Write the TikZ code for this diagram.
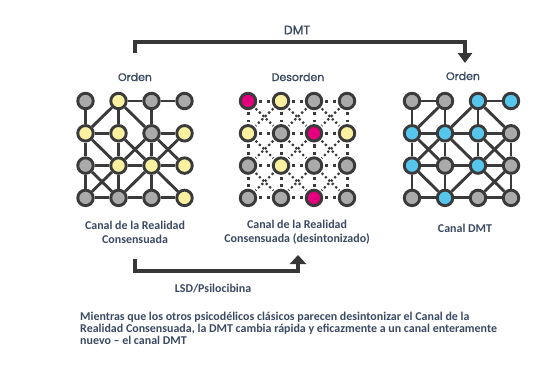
\documentclass[tikz,border=0pt]{standalone}
\usepackage{fontspec}
\setmainfont{Carlito}
\newfontfamily\headfont{Poppins}[FakeBold=1.2]
\usetikzlibrary{arrows.meta}
\definecolor{txt}{RGB}{59,74,99}
\definecolor{ink}{RGB}{58,58,58}
\definecolor{gr}{RGB}{170,170,170}
\definecolor{ye}{RGB}{250,240,160}
\definecolor{mg}{RGB}{228,0,124}
\definecolor{bl}{RGB}{86,198,236}
\definecolor{arrowc}{RGB}{55,55,55}
\pgfdeclarelayer{paper}
\pgfdeclarelayer{edges}
\pgfsetlayers{paper,edges,main}
\tikzset{
  dotnode/.style={circle,draw=ink,line width=2.9bp,minimum size=15.5bp,inner sep=0pt},
  gline/.style={draw=ink,line width=2.9bp},
  oline/.style={draw=ink,line width=3bp,dash pattern=on 3.2bp off 4.5bp,shorten >=1.8bp,shorten <=1.8bp},
  dline/.style={draw=ink,line width=2.2bp,dash pattern=on 2.2bp off 2.6bp,shorten >=1.5bp,shorten <=1.5bp},
  head/.style={font=\headfont\fontsize{11}{13}\selectfont,text=txt,inner sep=0pt},
  lab/.style={font=\bfseries\fontsize{12}{14}\selectfont,text=txt,align=center,inner sep=0pt},
  para/.style={font=\bfseries\fontsize{12}{12}\selectfont,text=txt,inner sep=0pt,anchor=base west},
  arrowline/.style={draw=arrowc,line width=3.2bp,line join=miter},
}
\begin{document}
\begin{tikzpicture}[x=1bp,y=-1bp]
\useasboundingbox (0,0) rectangle (559,365);
\begin{pgfonlayer}{paper}
\fill[white] (0,0) rectangle (559,365);
\end{pgfonlayer}
% grid A
\foreach \c/\r/\f in {0/0/gr,1/0/ye,2/0/gr,3/0/gr,0/1/ye,1/1/ye,2/1/gr,3/1/ye,0/2/gr,1/2/ye,2/2/ye,3/2/ye,0/3/gr,1/3/gr,2/3/gr,3/3/ye}
  \node[dotnode,fill=\f] (A\c\r) at ({85.5+33*\c},{101+32.3*\r}) {};
% grid B
\foreach \c/\r/\f in {0/0/mg,1/0/ye,2/0/gr,3/0/gr,0/1/ye,1/1/gr,2/1/mg,3/1/ye,0/2/gr,1/2/ye,2/2/gr,3/2/gr,0/3/gr,1/3/gr,2/3/mg,3/3/gr}
  \node[dotnode,fill=\f] (B\c\r) at ({248+33*\c},{101+32.3*\r}) {};
% grid C
\foreach \c/\r/\f in {0/0/gr,1/0/gr,2/0/bl,3/0/bl,0/1/bl,1/1/bl,2/1/bl,3/1/gr,0/2/bl,1/2/gr,2/2/bl,3/2/gr,0/3/gr,1/3/bl,2/3/gr,3/3/gr}
  \node[dotnode,fill=\f] (C\c\r) at ({412+33*\c},{101+32.3*\r}) {};
\begin{pgfonlayer}{edges}
\foreach \a/\b in {A00/A01,A10/A20,A20/A30,A10/A01,A10/A11,A10/A21,A20/A21,
  A01/A11,A21/A31,A01/A02,A01/A12,A11/A12,A11/A22,A21/A12,A21/A22,A21/A32,A31/A22,
  A02/A12,A12/A22,A22/A32,A02/A03,A02/A13,A12/A03,A12/A13,A22/A23,A22/A13,A22/A33,
  A03/A13,A13/A23,A23/A33}
  \draw[gline] (\a) -- (\b);
\foreach \a/\b in {C00/C10,C20/C30,C00/C01,C10/C11,C10/C01,C11/C20,C20/C21,C20/C31,
  C01/C11,C11/C21,C21/C31,C01/C02,C01/C12,C11/C02,C11/C12,C11/C22,C21/C22,C21/C32,C31/C22,C31/C32,
  C02/C12,C12/C22,C22/C32,C02/C03,C02/C13,C12/C13,C22/C13,C22/C33,C32/C23,C32/C33,
  C03/C13,C13/C23,C23/C33}
  \draw[gline] (\a) -- (\b);
\foreach \i in {0,1,2,3}{
  \foreach \j/\k in {0/1,1/2,2/3}{
    \draw[oline] (B\j\i) -- (B\k\i);
    \draw[oline] (B\i\j) -- (B\i\k);
  }
}
\foreach \j/\k in {0/1,1/2,2/3}{
  \foreach \m/\n in {0/1,1/2,2/3}{
    \draw[dline] (B\j\m) -- (B\k\n);
    \draw[dline] (B\k\m) -- (B\j\n);
  }
}
\end{pgfonlayer}
% headings
\node[head] (hA) at (135,77) {Orden};
\node[head] (hB) at (298,77) {Desorden};
\node[head] (hC) at (463,76) {Orden};
\node[head,font=\headfont\fontsize{12.5}{14}\selectfont] (dmt) at (297,30) {DMT};
% channel labels
\node[lab] (cA) at (135,232) {Canal de la Realidad\\Consensuada};
\node[lab] (cB) at (297,232) {Canal de la Realidad\\Consensuada (desintonizado)};
\node[lab] (cC) at (465,228) {Canal DMT};
\node[lab] (lsd) at (213,289) {LSD/Psilocibina};
% arrows
\coordinate (dA) at (135,53);
\coordinate (dB) at (465,63);
\draw[arrowline,-{Triangle[width=14bp,length=10bp]}] (dA) -- ++(0,-11) -| (dB);
\coordinate (lA) at (135,259);
\coordinate (lB) at (298,255);
\draw[arrowline,-{Triangle[width=16bp,length=9bp]}] (lA) -- ++(0,12) -| (lB);
% paragraph
\node[para] (p1) at (80,320.5) {Mientras que los otros psicodélicos clásicos parecen desintonizar el Canal de la};
\node[para] (p2) at (80,332.5) {Realidad Consensuada, la DMT cambia rápida y eficazmente a un canal enteramente};
\node[para] (p3) at (80,344.5) {nuevo – el canal DMT};
\end{tikzpicture}
\end{document}
